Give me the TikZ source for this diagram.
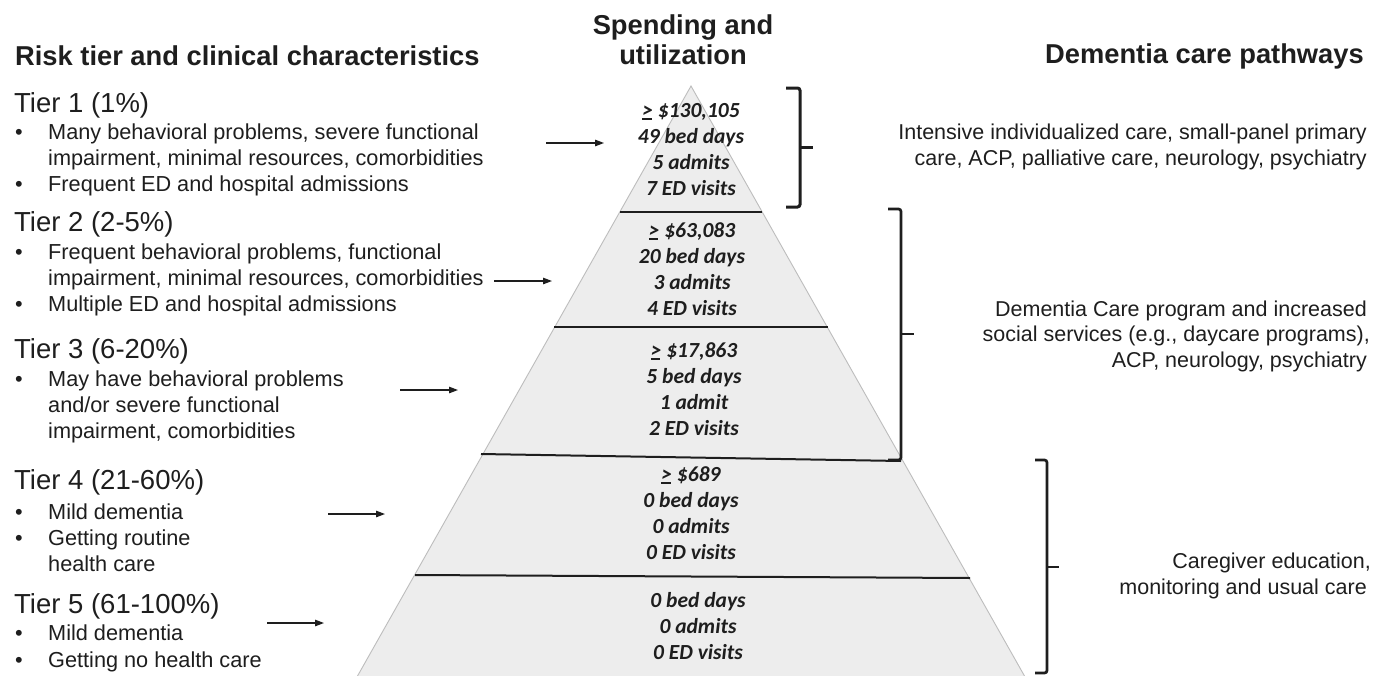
\documentclass[tikz,border=0pt]{standalone}
\usepackage{fontspec}
\setmainfont{Liberation Sans}
\newfontfamily\calib{Carlito}
\usetikzlibrary{arrows.meta}

\definecolor{txt}{HTML}{1E1E1E}
\definecolor{pyrfill}{HTML}{EDEDED}
\definecolor{pyredge}{HTML}{BDBDBD}

\newcommand{\geu}{\leavevmode\rlap{\rule[-2.6pt]{0.44em}{1.8pt}}>}

\tikzset{
  hdr/.style={font=\fontsize{27.3}{30}\selectfont\bfseries, text=txt, inner sep=0pt},
  tiertitle/.style={font=\fontsize{27.5}{30}\selectfont, text=txt, inner sep=0pt, anchor=base west},
  body/.style={font=\fontsize{21.7}{26}\selectfont, text=txt, inner sep=0pt, anchor=base west},
  rtext/.style={font=\fontsize{21.5}{26}\selectfont, text=txt, inner sep=0pt, anchor=base east},
  pyr/.style={font=\calib\fontsize{21.5}{26}\selectfont\bfseries\itshape, text=txt, inner sep=0pt, anchor=base},
  divider/.style={draw=txt, line width=2pt},
  bracket/.style={draw=txt, line width=3pt, rounded corners=2.5pt},
  tierarrow/.style={draw=txt, line width=1.2pt, -{Triangle[length=9pt,width=6.5pt]}},
}

\begin{document}
\begin{tikzpicture}[x=1pt,y=-1pt]
\useasboundingbox (0,0) rectangle (1374,675);
\fill[white] (0,0) rectangle (1374,675);
\clip (0,0) rectangle (1374,675);

% ---- pyramid ----
\coordinate (apex) at (691,86);
\coordinate (bl) at (357.5,676);
\coordinate (br) at (1024.5,676);
\fill[pyrfill] (apex) -- (bl) -- (br) -- cycle;
\draw[pyredge, line width=0.9pt] (bl) -- (apex) -- (br);

% dividers
\coordinate (d1l) at (620,212);   \coordinate (d1r) at (762,212);
\coordinate (d2l) at (554,327);   \coordinate (d2r) at (828,327);
\coordinate (d3l) at (481,454);   \coordinate (d3r) at (901,461);
\coordinate (d4l) at (415,575);   \coordinate (d4r) at (970,578);
\draw[divider, line width=2.6pt] (d1l) -- (d1r);
\draw[divider] (d2l) -- (d2r);
\draw[divider] (d3l) -- (d3r);
\draw[divider] (d4l) -- (d4r);

% ---- headers ----
\node[hdr, anchor=base west] (h1) at (15,65) {Risk tier and clinical characteristics};
\node[hdr, anchor=base] (h2a) at (683,34) {Spending and};
\node[hdr, anchor=base] (h2b) at (683,64) {utilization};
\node[hdr, anchor=base east] (h3) at (1364,63) {Dementia care pathways};

% ---- left column ----
\node[tiertitle] (t1) at (14,112) {Tier 1 (1\%)};
\node[body] (t1b1) at (15,139) {•};
\node[body] (t1l1) at (48,139) {Many behavioral problems, severe functional};
\node[body] (t1l2) at (48,165) {impairment, minimal resources, comorbidities};
\node[body] (t1b2) at (15,191) {•};
\node[body] (t1l3) at (48,191) {Frequent ED and hospital admissions};

\node[tiertitle] (t2) at (14,231) {Tier 2 (2-5\%)};
\node[body] (t2b1) at (15,259) {•};
\node[body] (t2l1) at (48,259) {Frequent behavioral problems, functional};
\node[body] (t2l2) at (48,285) {impairment, minimal resources, comorbidities};
\node[body] (t2b2) at (15,311) {•};
\node[body] (t2l3) at (48,311) {Multiple ED and hospital admissions};

\node[tiertitle] (t3) at (14,358) {Tier 3 (6-20\%)};
\node[body] (t3b1) at (15,386) {•};
\node[body] (t3l1) at (48,386) {May have behavioral problems};
\node[body] (t3l2) at (48,412) {and/or severe functional};
\node[body] (t3l3) at (48,438) {impairment, comorbidities};

\node[tiertitle] (t4) at (14,489) {Tier 4 (21-60\%)};
\node[body] (t4b1) at (15,519) {•};
\node[body] (t4l1) at (48,519) {Mild dementia};
\node[body] (t4b2) at (15,545) {•};
\node[body] (t4l2) at (48,545) {Getting routine};
\node[body] (t4l3) at (48,571) {health care};

\node[tiertitle] (t5) at (14,613) {Tier 5 (61-100\%)};
\node[body] (t5b1) at (15,640) {•};
\node[body] (t5l1) at (48,640) {Mild dementia};
\node[body] (t5b2) at (15,667) {•};
\node[body] (t5l2) at (48,667) {Getting no health care};

% ---- arrows ----
\coordinate (a1s) at (546,143);  \coordinate (a1e) at (604,143);
\coordinate (a2s) at (494,281);  \coordinate (a2e) at (552,281);
\coordinate (a3s) at (400,390);  \coordinate (a3e) at (458,390);
\coordinate (a4s) at (328,514);  \coordinate (a4e) at (385,514);
\coordinate (a5s) at (267,623);  \coordinate (a5e) at (324,623);
\draw[tierarrow] (a1s) -- (a1e);
\draw[tierarrow] (a2s) -- (a2e);
\draw[tierarrow] (a3s) -- (a3e);
\draw[tierarrow] (a4s) -- (a4e);
\draw[tierarrow] (a5s) -- (a5e);

% ---- pyramid text ----
\node[pyr] (p1a) at (691,117) {\geu{} \$130,105};
\node[pyr] (p1b) at (691,143) {49 bed days};
\node[pyr] (p1c) at (691,169) {5 admits};
\node[pyr] (p1d) at (691,195) {7 ED visits};

\node[pyr] (p2a) at (692,237) {\geu{} \$63,083};
\node[pyr] (p2b) at (692,263) {20 bed days};
\node[pyr] (p2c) at (692,289) {3 admits};
\node[pyr] (p2d) at (692,315) {4 ED visits};

\node[pyr] (p3a) at (694,357) {\geu{} \$17,863};
\node[pyr] (p3b) at (694,383) {5 bed days};
\node[pyr] (p3c) at (694,409) {1 admit};
\node[pyr] (p3d) at (694,435) {2 ED visits};

\node[pyr] (p4a) at (691,481) {\geu{} \$689};
\node[pyr] (p4b) at (691,507) {0 bed days};
\node[pyr] (p4c) at (691,533) {0 admits};
\node[pyr] (p4d) at (691,559) {0 ED visits};

\node[pyr] (p5a) at (698,607) {0 bed days};
\node[pyr] (p5b) at (698,633) {0 admits};
\node[pyr] (p5c) at (698,659) {0 ED visits};

% ---- brackets ----
\coordinate (b1t) at (786,88);  \coordinate (b1b) at (786,207);
\draw[bracket] (b1t) -- (800,88) -- (800,207) -- (b1b);
\draw[bracket, rounded corners=0pt] (800,147) -- (813,147);

\coordinate (b2t) at (888,209);  \coordinate (b2b) at (888,460);
\draw[bracket, line width=2.7pt] (b2t) -- (901,209) -- (901,460) -- (b2b);
\draw[bracket, line width=2.7pt, rounded corners=0pt] (901,334) -- (914,334);

\coordinate (b3t) at (1035,460);  \coordinate (b3b) at (1035,673);
\draw[bracket, line width=2.7pt] (b3t) -- (1047,460) -- (1047,673) -- (b3b);
\draw[bracket, line width=2.7pt, rounded corners=0pt] (1047,567) -- (1059,567);

% ---- right column ----
\node[rtext] (r1a) at (1367,139) {Intensive individualized care, small-panel primary};
\node[rtext] (r1b) at (1367,165) {care, ACP, palliative care, neurology, psychiatry};

\node[rtext] (r2a) at (1367,316) {Dementia Care program and increased};
\node[rtext] (r2b) at (1370,341) {social services (e.g., daycare programs),};
\node[rtext] (r2c) at (1367,367) {ACP, neurology, psychiatry};

\node[rtext] (r3a) at (1371,568) {Caregiver education,};
\node[rtext] (r3b) at (1367,594) {monitoring and usual care};
\end{tikzpicture}
\end{document}
